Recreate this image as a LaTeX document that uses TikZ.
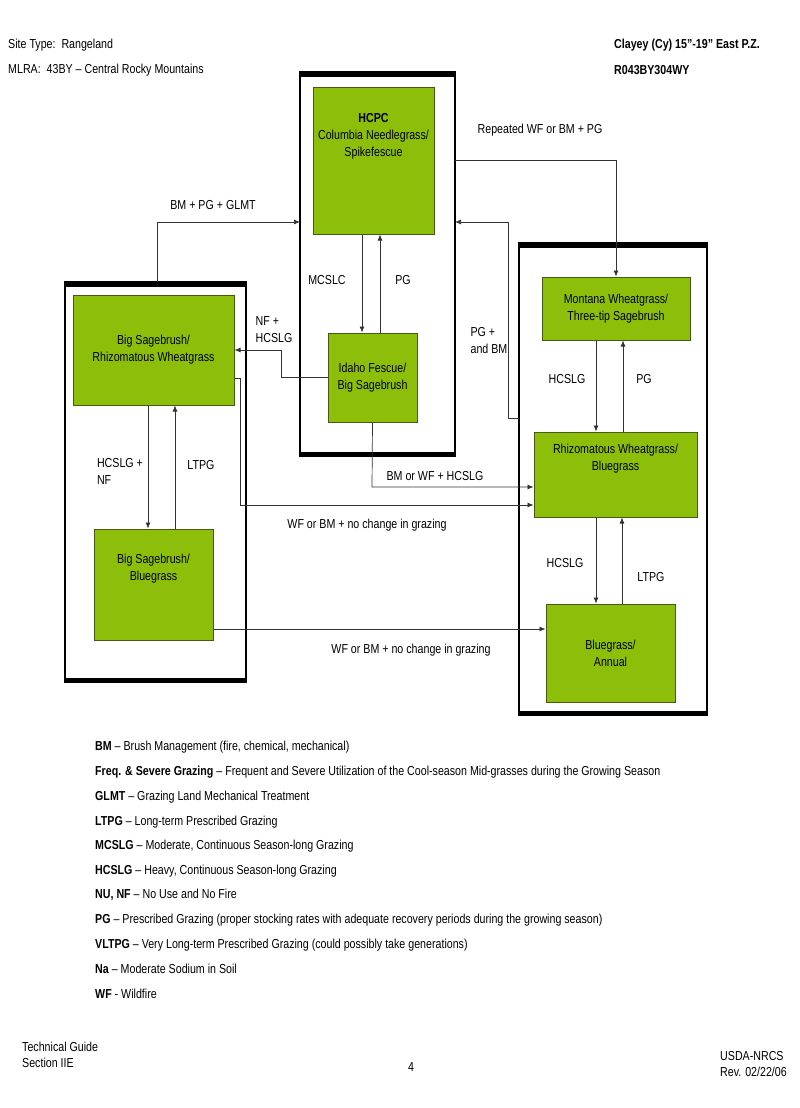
\documentclass[tikz,border=0pt]{standalone}
\usepackage{fontspec}
\setmainfont{Liberation Sans}[FakeStretch=0.82]
\usetikzlibrary{arrows.meta}
\definecolor{grn}{RGB}{141,190,10}
\definecolor{grnd}{RGB}{70,90,20}
\begin{document}
\begin{tikzpicture}[x=1pt,y=-1pt,
  st/.style={draw=grnd,fill=grn,line width=1pt,align=center,font=\fontsize{13}{17}\selectfont,inner sep=0pt},
  outer/.style={draw=black,line width=1.5pt},
  conn/.style={draw=black!80,line width=0.7pt,-{Latex[length=6pt,width=5pt]}},
  lbl/.style={font=\fontsize{13}{17}\selectfont,align=left,inner sep=1pt},
  leg/.style={font=\fontsize{13}{16}\selectfont,anchor=west,inner sep=0pt}]
\useasboundingbox (0,0) rectangle (800,1108);
% outer boxes
\draw[outer] (300,72) rectangle (455,456);
\draw[line width=5pt] (300,74)--(455,74) (300,454)--(455,454);
\draw[outer] (65,282) rectangle (246,682);
\draw[line width=5pt] (65,284)--(246,284) (65,680)--(246,680);
\draw[outer] (519,243) rectangle (707,715);
\draw[line width=5pt] (519,245)--(707,245) (519,713)--(707,713);
% states
\node[st,minimum width=121pt,minimum height=147pt] (hcpc) at (373.5,160.5) {\textbf{HCPC}\\Columbia Needlegrass/\\Spikefescue\\[34pt]};
\node[st,minimum width=89pt,minimum height=89pt] (idaho) at (372.5,377.5) {Idaho Fescue/\\Big Sagebrush};
\node[st,minimum width=161pt,minimum height=110pt] (bsr) at (153.5,350) {Big Sagebrush/\\Rhizomatous Wheatgrass};
\node[st,minimum width=119pt,minimum height=111pt] (bsb) at (153.5,584.5) {Big Sagebrush/\\Bluegrass\\[18pt]};
\node[st,minimum width=148pt,minimum height=63pt] (mont) at (616,308.5) {Montana Wheatgrass/\\Three-tip Sagebrush};
\node[st,minimum width=163pt,minimum height=85pt] (rhb) at (615.5,474.5) {Rhizomatous Wheatgrass/\\Bluegrass\\[18pt]};
\node[st,minimum width=129pt,minimum height=98pt] (ba) at (610.5,653) {Bluegrass/\\Annual};
% outer anchors
\coordinate (tl) at (300,222);
\coordinate (tr) at (455,222);
\coordinate (tr2) at (455,160);
\coordinate (lbtop) at (157,282);
\coordinate (rleft) at (519,418);
% connectors
\draw[conn] (lbtop) |- (tl);
\draw[conn] (tr2) -| (mont.north);
\draw[conn] (rleft) -- (508,418) |- (tr);
\draw[conn] (hcpc.south -| 362,0) -- (idaho.north -| 362,0);
\draw[conn] (idaho.north -| 380,0) -- (hcpc.south -| 380,0);
\draw[conn] (idaho.west |- 0,377) -- (281,377) |- (bsr.east |- 0,350);
\draw[conn] (idaho.south) -- (372,487) -- (rhb.west |- 0,487);
\draw[conn] (bsr.east |- 0,378) -- (240,378) |- (rhb.west |- 0,505);
\draw[conn] (bsr.south -| 148,0) -- (bsb.north -| 148,0);
\draw[conn] (bsb.north -| 175,0) -- (bsr.south -| 175,0);
\draw[conn] (mont.south -| 596,0) -- (rhb.north -| 596,0);
\draw[conn] (rhb.north -| 623,0) -- (mont.south -| 623,0);
\draw[conn] (rhb.south -| 596,0) -- (ba.north -| 596,0);
\draw[conn] (ba.north -| 622,0) -- (rhb.south -| 622,0);
\draw[conn] (bsb.east |- 0,629) -- (ba.west |- 0,629);
% labels
\node[lbl] at (213,205) {BM + PG + GLMT};
\node[lbl] at (540,130) {Repeated WF or BM + PG};
\node[lbl] at (489,341) {PG +\\and BM};
\node[lbl] at (327,280) {MCSLC};
\node[lbl] at (403,280) {PG};
\node[lbl] at (274,330) {NF +\\HCSLG};
\node[lbl] at (435,476) {BM or WF + HCSLG};
\node[lbl] at (367,525) {WF or BM + no change in grazing};
\node[lbl] at (120,471) {HCSLG +\\NF};
\node[lbl] at (201,465) {LTPG};
\node[lbl] at (567,379) {HCSLG};
\node[lbl] at (644,379) {PG};
\node[lbl] at (565,563) {HCSLG};
\node[lbl] at (651,577) {LTPG};
\node[lbl] at (411,650) {WF or BM + no change in grazing};
% header
\node[leg] (h1) at (8,45) {Site Type:\ \ Rangeland};
\node[leg] (h2) at (8,70) {MLRA:\ \ 43BY -- Central Rocky Mountains};
\node[leg,font=\fontsize{13}{16}\selectfont\bfseries] (h3) at (614,45) {Clayey (Cy) 15''-19'' East P.Z.};
\node[leg,font=\fontsize{13}{16}\selectfont\bfseries] (h4) at (614,70) {R043BY304WY};
% legend
\node[leg] (l1) at (95,747) {\textbf{BM} -- Brush Management (fire, chemical, mechanical)};
\node[leg] (l2) at (95,772) {\textbf{Freq. \& Severe Grazing} -- Frequent and Severe Utilization of the Cool-season Mid-grasses during the Growing Season};
\node[leg] (l3) at (95,797) {\textbf{GLMT} -- Grazing Land Mechanical Treatment};
\node[leg] (l4) at (95,822) {\textbf{LTPG} -- Long-term Prescribed Grazing};
\node[leg] (l5) at (95,846) {\textbf{MCSLG} -- Moderate, Continuous Season-long Grazing};
\node[leg] (l6) at (95,871) {\textbf{HCSLG} -- Heavy, Continuous Season-long Grazing};
\node[leg] (l7) at (95,895) {\textbf{NU, NF} -- No Use and No Fire};
\node[leg] (l8) at (95,920) {\textbf{PG} -- Prescribed Grazing (proper stocking rates with adequate recovery periods during the growing season)};
\node[leg] (l9) at (95,945) {\textbf{VLTPG} -- Very Long-term Prescribed Grazing (could possibly take generations)};
\node[leg] (l10) at (95,969) {\textbf{Na} -- Moderate Sodium in Soil};
\node[leg] (l11) at (95,994) {\textbf{WF} - Wildfire};
% footer
\node[leg,align=left] (f1) at (22,1055) {Technical Guide\\Section IIE};
\node[lbl] (f2) at (411,1067) {4};
\node[leg,align=left] (f3) at (720,1064) {USDA-NRCS\\Rev. 02/22/06};
\end{tikzpicture}
\end{document}
